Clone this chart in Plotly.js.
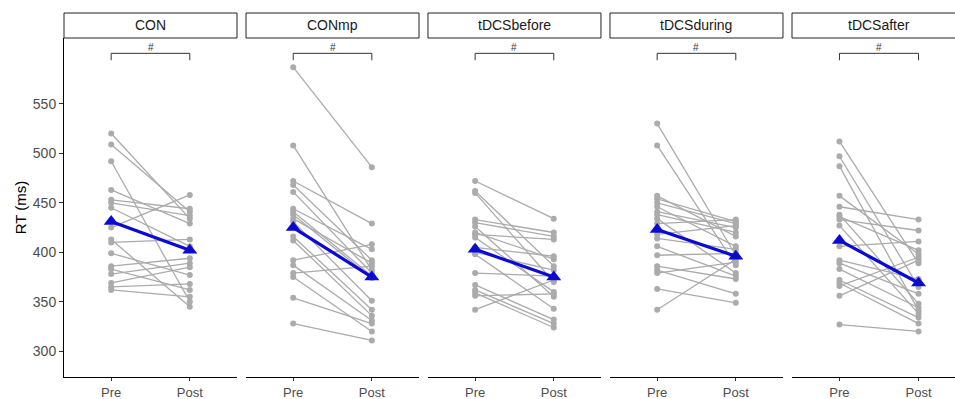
<!DOCTYPE html>
<html>
<head>
<meta charset="utf-8">
<script src="https://cdn.plot.ly/plotly-3.0.1.min.js"></script>
<style>
html,body{margin:0;padding:0;overflow:hidden;background:#fff;width:955px;height:399px;}
#chart{width:966px;height:399px;}
</style>
</head>
<body>
<div id="chart"></div>
<script>
// ---- Data ----
const groups = ['CON', 'CONmp', 'tDCSbefore', 'tDCSduring', 'tDCSafter'];
const timeLabels = ['Pre', 'Post'];

const conPre  = [520, 509, 492, 463, 453, 450, 445, 432, 425, 413, 410, 399, 386, 383, 378, 369, 365, 362];
const conPost = [434, 441, 350, 429, 444, 437, 406, 402, 458, 345, 413, 377, 394, 362, 389, 385, 368, 355];

const conmpPre  = [587, 508, 472, 468, 461, 444, 441, 438, 434, 431, 416, 412, 392, 387, 379, 375, 354, 328];
const conmpPost = [486, 382, 429, 392, 379, 403, 376, 374, 389, 351, 342, 336, 408, 331, 386, 320, 328, 311];

const beforePre  = [472, 462, 460, 433, 430, 426, 420, 418, 415, 405, 400, 398, 379, 367, 362, 359, 356, 342];
const beforePost = [434, 386, 370, 420, 416, 355, 393, 413, 360, 396, 382, 343, 376, 332, 328, 324, 358, 372];

const duringPre  = [530, 508, 457, 454, 450, 446, 441, 438, 434, 429, 418, 414, 406, 397, 386, 382, 379, 363, 342];
const duringPost = [397, 387, 416, 431, 429, 406, 425, 420, 379, 433, 427, 403, 376, 399, 373, 358, 390, 349, 393];

const afterPre  = [512, 497, 487, 457, 446, 438, 436, 433, 427, 406, 392, 389, 383, 372, 369, 366, 356, 327];
const afterPost = [389, 365, 341, 398, 433, 348, 402, 422, 338, 411, 373, 358, 344, 334, 328, 395, 392, 320];

const meanPre  = [431, 425, 403, 423, 412];
const meanPost = [402, 375, 375, 396, 369];

const bracketLabel = '#';
const yTicks = [300, 350, 400, 450, 500, 550];

// ---- Build figure ----
const prePost = [
  [conPre, conPost], [conmpPre, conmpPost], [beforePre, beforePost],
  [duringPre, duringPost], [afterPre, afterPost]
];

const FONT = 'Liberation Sans, Arial, Helvetica, sans-serif';
const GREY = '#ababab';
const BLUE = '#0a0ad2';
const domains = [[0, 0.1918], [0.2018, 0.3936], [0.4035, 0.5953], [0.6053, 0.7971], [0.8071, 1.0]];

const traces = [];
const shapes = [];
const annotations = [];
const layout = {
  width: 966, height: 399,
  margin: {l: 64, r: 0, t: 38, b: 22},
  paper_bgcolor: '#fff', plot_bgcolor: '#fff',
  showlegend: false,
  font: {family: FONT, color: '#4d4d4d', size: 13}
};

groups.forEach((g, i) => {
  const xa = i === 0 ? 'x' : 'x' + (i + 1);
  const ya = i === 0 ? 'y' : 'y' + (i + 1);
  const [pre, post] = prePost[i];
  const xs = [], ys = [];
  for (let k = 0; k < pre.length; k++) {
    xs.push(1, 2, null);
    ys.push(pre[k], post[k], null);
  }
  traces.push({
    type: 'scatter', mode: 'lines+markers', x: xs, y: ys,
    xaxis: xa, yaxis: ya, connectgaps: false,
    line: {color: GREY, width: 1.3},
    marker: {color: GREY, size: 6},
    hoverinfo: 'skip'
  });
  traces.push({
    type: 'scatter', mode: 'lines+markers', x: [1, 2], y: [meanPre[i], meanPost[i]],
    xaxis: xa, yaxis: ya,
    line: {color: BLUE, width: 3.2},
    marker: {color: BLUE, size: 13, symbol: 'triangle-up'},
    hoverinfo: 'skip'
  });

  const xKey = i === 0 ? 'xaxis' : 'xaxis' + (i + 1);
  const yKey = i === 0 ? 'yaxis' : 'yaxis' + (i + 1);
  layout[xKey] = {
    domain: domains[i], anchor: ya, range: [0.4, 2.6],
    tickvals: [1, 2], ticktext: timeLabels,
    showline: true, linecolor: '#000', linewidth: 1,
    ticks: 'outside', ticklen: 3, tickcolor: '#333', tickwidth: 1,
    showgrid: false, zeroline: false, fixedrange: true,
    tickfont: {family: FONT, size: 13, color: '#4d4d4d'}
  };
  const yax = {
    domain: [0, 1], anchor: xa, range: [274, 616.5],
    showgrid: false, zeroline: false, fixedrange: true
  };
  if (i === 0) {
    Object.assign(yax, {
      tickvals: yTicks, showline: true, linecolor: '#000', linewidth: 1,
      ticks: 'outside', ticklen: 4, tickcolor: '#333', tickwidth: 1,
      tickfont: {family: FONT, size: 14, color: '#4d4d4d'},
      title: {text: 'RT (ms)', font: {family: FONT, size: 15, color: '#000'}, standoff: 2}
    });
  } else {
    Object.assign(yax, {matches: 'y', showticklabels: false, showline: false, ticks: ''});
  }
  layout[yKey] = yax;

  // facet strip
  shapes.push({
    type: 'rect', xref: xa + ' domain', yref: 'paper',
    x0: 0, x1: 1, y0: 1.0, y1: 1.0737,
    line: {color: '#222', width: 1}, fillcolor: '#fff', layer: 'above'
  });
  annotations.push({
    xref: xa + ' domain', yref: 'paper', x: 0.5, y: 1.0369,
    text: g, showarrow: false, xanchor: 'center', yanchor: 'middle',
    font: {family: FONT, size: 14, color: '#1a1a1a'}
  });
  // significance bracket
  shapes.push({
    type: 'path', xref: xa, yref: ya,
    path: 'M 1 594 L 1 601 L 2 601 L 2 594',
    line: {color: '#333', width: 1}
  });
  annotations.push({
    xref: xa, yref: ya, x: 1.5, y: 601,
    text: bracketLabel, showarrow: false, xanchor: 'center', yanchor: 'bottom',
    yshift: -2, font: {family: FONT, size: 10, color: '#333'}
  });
});

layout.shapes = shapes;
layout.annotations = annotations;

Plotly.newPlot('chart', traces, layout, {displayModeBar: false, staticPlot: true});
</script>
</body>
</html>
